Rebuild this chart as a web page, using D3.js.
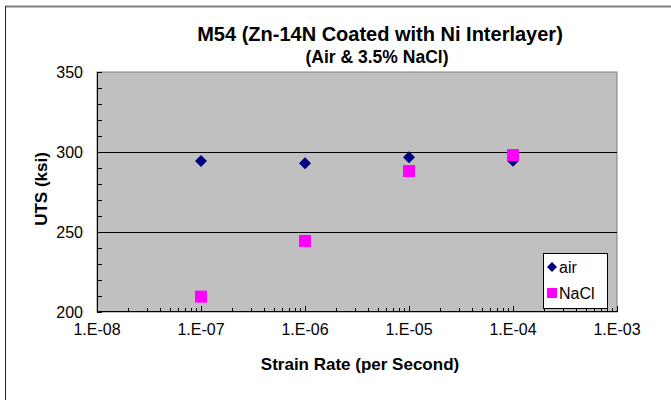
<!DOCTYPE html>
<html>
<head>
<meta charset="utf-8">
<script src="https://cdn.jsdelivr.net/npm/d3@7"></script>
<style>
  body { margin: 0; background: #fff; }
  svg { display: block; font-family: "Liberation Sans", Arial, sans-serif; }
</style>
</head>
<body>
<svg width="671" height="400"></svg>
<script>
// Data
const strainRates = [1e-7, 1e-6, 1e-5, 1e-4];
const airUTS = [294.4, 293.0, 296.7, 294.6];
const naclUTS = [209.6, 244.4, 288.1, 298.1];
const xTicks = [1e-8, 1e-7, 1e-6, 1e-5, 1e-4, 1e-3];
const xTickLabels = ['1.E-08', '1.E-07', '1.E-06', '1.E-05', '1.E-04', '1.E-03'];
const yTicks = [200, 250, 300, 350];
const seriesNames = ['air', 'NaCl'];

const svg = d3.select('svg');
const margin = { top: 72, right: 54, bottom: 88, left: 97 };
const width = 671 - margin.left - margin.right;
const height = 400 - margin.top - margin.bottom;

// outer frame (top and left only are visible)
svg.append('line').attr('x1', 5).attr('x2', 671).attr('y1', 6.5).attr('y2', 6.5)
  .attr('stroke', '#808080').attr('stroke-width', 2);
svg.append('line').attr('x1', 5.5).attr('x2', 5.5).attr('y1', 6).attr('y2', 400)
  .attr('stroke', '#222').attr('stroke-width', 1);

const x = d3.scaleLog().domain([1e-8, 1e-3]).range([0, width]);
const y = d3.scaleLinear().domain([200, 350]).range([height, 0]);

const g = svg.append('g')
  .attr('transform', 'translate(' + margin.left + ',' + margin.top + ')');

// plot area
g.append('rect')
  .attr('width', width).attr('height', height)
  .attr('fill', '#c0c0c0').attr('stroke', '#808080');

// gridlines
g.selectAll('.grid')
  .data(yTicks.filter((d) => d > 200 && d < 350))
  .enter()
  .append('line')
  .attr('class', 'grid')
  .attr('x1', 0).attr('x2', width)
  .attr('y1', (d) => Math.round(y(d)) + 0.5)
  .attr('y2', (d) => Math.round(y(d)) + 0.5)
  .attr('stroke', '#000');

// y axis with minor ticks (inside)
const yMinor = d3.range(200, 351, 10);
const yAxis = g.append('g').attr('class', 'axis axis-y');
yAxis.append('line').attr('x1', 0.5).attr('x2', 0.5).attr('y1', 0).attr('y2', height).attr('stroke', '#000');
yAxis.selectAll('.ytick')
  .data(yMinor)
  .enter()
  .append('line')
  .attr('x1', 0).attr('x2', 5)
  .attr('y1', (d) => Math.round(y(d)) + 0.5)
  .attr('y2', (d) => Math.round(y(d)) + 0.5)
  .attr('stroke', '#000');
yAxis.selectAll('text')
  .data(yTicks)
  .enter()
  .append('text')
  .attr('x', -14)
  .attr('y', (d) => y(d))
  .attr('dy', '0.35em')
  .attr('text-anchor', 'end')
  .attr('font-size', 16)
  .text((d) => d);

// x axis with minor ticks (inside)
const xMinor = [];
xTicks.slice(0, -1).forEach((t) => {
  for (let k = 2; k <= 9; k++) xMinor.push(t * k);
});
const xAxis = g.append('g').attr('class', 'axis axis-x')
  .attr('transform', 'translate(0,' + height + ')');
xAxis.append('line').attr('x1', 0).attr('x2', width).attr('y1', -0.5).attr('y2', -0.5).attr('stroke', '#000');
xAxis.selectAll('.xminor')
  .data(xMinor)
  .enter()
  .append('line')
  .attr('x1', (d) => Math.round(x(d)) + 0.5)
  .attr('x2', (d) => Math.round(x(d)) + 0.5)
  .attr('y1', 0).attr('y2', -4)
  .attr('stroke', '#000');
xAxis.selectAll('.xmajor')
  .data(xTicks)
  .enter()
  .append('line')
  .attr('x1', (d) => Math.round(x(d)) + 0.5)
  .attr('x2', (d) => Math.round(x(d)) + 0.5)
  .attr('y1', 0).attr('y2', -6)
  .attr('stroke', '#000');
xAxis.selectAll('text')
  .data(xTicks)
  .enter()
  .append('text')
  .attr('x', (d) => x(d))
  .attr('y', 23)
  .attr('text-anchor', 'middle')
  .attr('font-size', 16)
  .text((d, i) => xTickLabels[i]);

// air series: navy diamonds
const diamond = (cx, cy, r) => 'M' + cx + ',' + (cy - r) + 'L' + (cx + r) + ',' + cy +
  'L' + cx + ',' + (cy + r) + 'L' + (cx - r) + ',' + cy + 'Z';
g.selectAll('.air')
  .data(strainRates)
  .enter()
  .append('path')
  .attr('class', 'air')
  .attr('d', (d, i) => diamond(x(d), y(airUTS[i]), 6))
  .attr('fill', '#000080');

// NaCl series: magenta squares
g.selectAll('.nacl')
  .data(strainRates)
  .enter()
  .append('rect')
  .attr('class', 'nacl')
  .attr('x', (d) => x(d) - 6)
  .attr('y', (d, i) => y(naclUTS[i]) - 6)
  .attr('width', 12).attr('height', 12)
  .attr('fill', '#ff00ff');

// legend
const legend = g.append('g').attr('transform', 'translate(' + (543 - margin.left) + ',' + (253 - margin.top) + ')');
legend.append('rect').attr('x', 0.5).attr('y', 0.5).attr('width', 64).attr('height', 55)
  .attr('fill', '#fff').attr('stroke', '#000');
legend.append('path').attr('d', diamond(9, 14, 5)).attr('fill', '#000080');
legend.append('rect').attr('x', 4).attr('y', 35).attr('width', 10).attr('height', 10).attr('fill', '#ff00ff');
legend.selectAll('text')
  .data(seriesNames)
  .enter()
  .append('text')
  .attr('x', 16)
  .attr('y', (d, i) => 14 + i * 26)
  .attr('dy', '0.35em')
  .attr('font-size', 16)
  .text((d) => d);

// titles
svg.append('text')
  .attr('x', 380).attr('y', 41)
  .attr('text-anchor', 'middle')
  .attr('font-size', 20).attr('font-weight', 'bold')
  .text('M54 (Zn-14N Coated with Ni Interlayer)');
svg.append('text')
  .attr('x', 377).attr('y', 63)
  .attr('text-anchor', 'middle')
  .attr('font-size', 17.5).attr('font-weight', 'bold')
  .text('(Air & 3.5% NaCl)');
svg.append('text')
  .attr('x', 360).attr('y', 370)
  .attr('text-anchor', 'middle')
  .attr('font-size', 17).attr('font-weight', 'bold')
  .text('Strain Rate (per Second)');
svg.append('text')
  .attr('transform', 'translate(47,189) rotate(-90)')
  .attr('text-anchor', 'middle')
  .attr('font-size', 17).attr('font-weight', 'bold')
  .text('UTS (ksi)');
</script>
</body>
</html>
